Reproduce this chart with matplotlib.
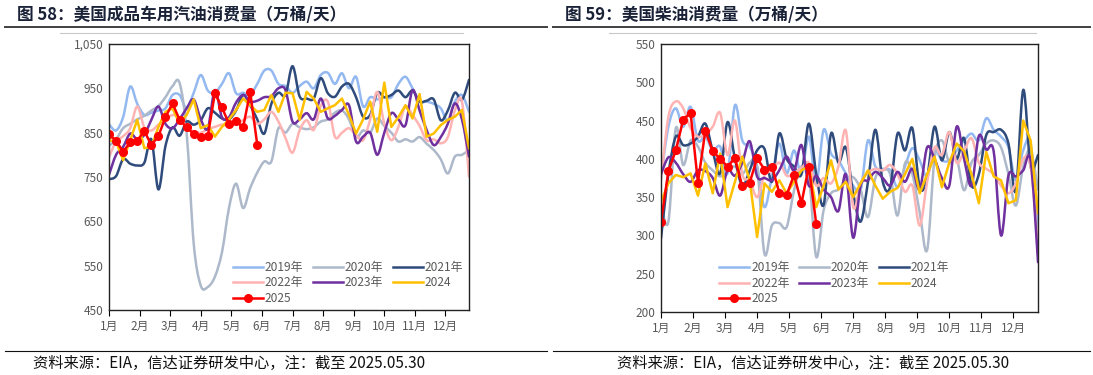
import numpy as np
import matplotlib
matplotlib.use("Agg")
import matplotlib.pyplot as plt
from matplotlib.lines import Line2D
from matplotlib.patches import PathPatch
from matplotlib.path import Path
from matplotlib.ticker import FuncFormatter

plt.rcParams["font.family"] = ["Noto Sans CJK SC", "DejaVu Sans"]

# ---- data (weekly, 52 weeks per year; 2025 through 2025-05-30) ----
years = ["2019年", "2020年", "2021年", "2022年", "2023年", "2024", "2025"]
months = ["1月", "2月", "3月", "4月", "5月", "6月", "7月", "8月", "9月", "10月", "11月", "12月"]

gas_2019 = [869, 855, 885, 954, 915, 890, 895, 900, 905, 935, 935, 905, 940, 980, 945, 940, 960, 984, 939, 940,
            935, 960, 990, 990, 960, 955, 940, 955, 965, 950, 980, 985, 960, 984, 950, 976, 909, 930, 925, 930,
            930, 960, 976, 950, 920, 920, 915, 905, 878, 920, 935, 897]
gas_2020 = [820, 835, 860, 870, 880, 888, 900, 910, 930, 955, 962, 850, 600, 505, 502, 525, 580, 680, 735, 680,
            725, 760, 785, 785, 860, 850, 870, 862, 858, 862, 875, 880, 895, 900, 880, 840, 855, 850, 882, 865,
            850, 830, 835, 830, 840, 825, 811, 790, 758, 796, 800, 811]
gas_2021 = [745, 752, 790, 780, 776, 782, 835, 722, 820, 862, 843, 875, 868, 878, 905, 895, 882, 880, 900, 935,
            912, 880, 848, 915, 940, 935, 1000, 932, 927, 927, 973, 939, 931, 954, 960, 930, 886, 890, 940, 930,
            935, 945, 930, 945, 920, 922, 925, 878, 900, 940, 924, 969]
gas_2022 = [795, 830, 842, 860, 909, 862, 855, 868, 878, 890, 882, 866, 852, 850, 858, 863, 868, 865, 870, 878,
            886, 870, 880, 897, 875, 838, 805, 855, 878, 856, 910, 920, 841, 850, 860, 845, 833, 880, 942, 870,
            833, 863, 909, 890, 865, 833, 835, 826, 840, 900, 920, 751]
gas_2023 = [755, 800, 818, 848, 835, 845, 879, 909, 870, 860, 880, 905, 925, 880, 860, 946, 885, 885, 918, 935,
            920, 922, 930, 932, 950, 946, 875, 880, 894, 880, 927, 882, 888, 901, 912, 830, 841, 850, 800, 850,
            894, 880, 867, 946, 900, 856, 822, 840, 870, 916, 880, 796]
gas_2024 = [833, 830, 788, 833, 879, 815, 818, 863, 897, 905, 871, 890, 925, 860, 867, 841, 863, 880, 901, 927,
            912, 897, 901, 935, 897, 940, 939, 879, 942, 927, 897, 905, 912, 927, 890, 848, 880, 920, 852, 963,
            863, 885, 912, 882, 937, 841, 848, 867, 879, 886, 901, 815]
gas_2025 = [846, 832, 807, 828, 832, 854, 822, 842, 885, 916, 879, 862, 847, 840, 843, 939, 907, 870, 876, 862,
            942, 823]

dsl_2019 = [376, 442, 466, 442, 468, 424, 429, 411, 416, 381, 470, 424, 416, 390, 337, 377, 420, 381, 411, 381,
            429, 368, 438, 407, 398, 381, 365, 359, 424, 390, 387, 385, 363, 390, 414, 398, 377, 411, 398, 398,
            411, 424, 433, 424, 453, 438, 429, 415, 372, 411, 420, 311]
dsl_2020 = [340, 318, 440, 392, 424, 416, 395, 385, 377, 385, 390, 380, 395, 390, 276, 313, 316, 311, 359, 390,
            380, 272, 333, 355, 360, 372, 376, 360, 324, 375, 385, 380, 326, 394, 380, 330, 281, 400, 424, 395,
            400, 359, 395, 405, 420, 424, 415, 380, 339, 390, 411, 360]
dsl_2021 = [296, 380, 429, 418, 420, 429, 446, 410, 381, 448, 400, 365, 385, 411, 413, 370, 433, 400, 390, 380,
            446, 380, 340, 433, 395, 415, 355, 318, 370, 438, 370, 363, 433, 411, 440, 363, 375, 442, 398, 435,
            400, 427, 365, 380, 431, 435, 438, 420, 358, 490, 390, 405]
dsl_2022 = [372, 455, 475, 466, 440, 429, 432, 442, 460, 405, 450, 380, 372, 350, 378, 385, 395, 378, 382, 388,
            395, 365, 375, 368, 390, 437, 337, 368, 382, 387, 385, 392, 380, 357, 365, 313, 370, 415, 405, 435,
            395, 410, 427, 395, 387, 380, 365, 355, 368, 400, 390, 285]
dsl_2023 = [380, 402, 395, 380, 370, 385, 384, 375, 352, 385, 378, 395, 423, 377, 375, 372, 385, 403, 385, 418,
            365, 378, 360, 350, 332, 380, 297, 365, 372, 383, 375, 365, 383, 370, 387, 360, 415, 400, 375, 365,
            442, 400, 365, 430, 412, 410, 300, 378, 377, 385, 398, 265]
dsl_2024 = [344, 368, 379, 376, 381, 352, 394, 355, 407, 337, 370, 403, 372, 298, 368, 357, 372, 355, 370, 385,
            390, 337, 365, 398, 360, 370, 350, 368, 385, 365, 348, 357, 362, 380, 400, 355, 380, 403, 363, 395,
            420, 410, 380, 342, 409, 377, 372, 342, 346, 450, 424, 329]
dsl_2025 = [318, 384, 411, 451, 460, 369, 437, 410, 400, 390, 401, 364, 369, 401, 386, 390, 356, 353, 379, 342,
            390, 315]

# ---- style ----
COLORS = ["#93B9F0", "#ADB9CA", "#2F4B7C", "#FFB3B3", "#7030A0", "#FFC000", "#FF0000"]
SMOOTH = [True, True, True, True, True, False, False]
TEXT_GREY = "#595959"
TITLE_COLOR = "#1A2238"
W, H = 1093, 375


def _px(x0, y0, x1, y1):
    """pixel box (top-left origin) -> figure rect"""
    return [x0 / W, 1 - y1 / H, (x1 - x0) / W, (y1 - y0) / H]


def _smooth_path(x, y):
    pts = np.column_stack([x, y]).astype(float)
    n = len(pts)
    verts = [pts[0]]
    codes = [Path.MOVETO]
    for i in range(n - 1):
        p0 = pts[i - 1] if i > 0 else pts[i]
        p1, p2 = pts[i], pts[i + 1]
        p3 = pts[i + 2] if i + 2 < n else pts[i + 1]
        verts += [p1 + (p2 - p0) / 6, p2 - (p3 - p1) / 6, p2]
        codes += [Path.CURVE4] * 3
    return Path(verts, codes)


def draw_panel(fig, rect, series, ylim, yticks, legend_anchor):
    ax = fig.add_axes(rect)
    for vals, color, smooth in zip(series, COLORS, SMOOTH):
        x = np.arange(len(vals))
        if smooth:
            ax.add_patch(PathPatch(_smooth_path(x, vals), fill=False, edgecolor=color,
                                   lw=1.8, joinstyle="round", capstyle="round"))
        elif color == COLORS[-1]:
            ax.plot(x, vals, color=color, lw=1.8, marker="o", ms=5.5)
        else:
            ax.plot(x, vals, color=color, lw=1.8)
    ax.set_xlim(0, 51)
    ax.set_ylim(*ylim)
    ax.set_yticks(yticks)
    ax.yaxis.set_major_formatter(FuncFormatter(lambda v, _: f"{v:,.0f}"))
    ax.set_xticks([i * 52 / 12 for i in range(12)])
    ax.set_xticklabels(months)
    ax.tick_params(axis="y", length=0, pad=4, labelsize=8.5, labelcolor=TEXT_GREY)
    ax.tick_params(axis="x", length=4, width=0.8, pad=3, labelsize=8.5, labelcolor=TEXT_GREY)
    for sp in ax.spines.values():
        sp.set_color("#222222")
        sp.set_linewidth(1.0)

    handles = []
    for label, color in zip(years, COLORS):
        if color == COLORS[-1]:
            handles.append(Line2D([], [], color=color, lw=1.8, marker="o", ms=5.5, label=label))
        else:
            handles.append(Line2D([], [], color=color, lw=1.8, label=label))
    order = [0, 3, 6, 1, 4, 2, 5]
    leg = ax.legend([handles[i] for i in order], [years[i] for i in order], ncol=3,
                    loc="upper left", bbox_to_anchor=legend_anchor, frameon=False,
                    fontsize=8.6, handlelength=2.5, handletextpad=0.15, columnspacing=0.8,
                    labelspacing=0.22, borderpad=0, borderaxespad=0)
    for t in leg.get_texts():
        t.set_color(TEXT_GREY)
    return ax


fig = plt.figure(figsize=(W / 100, H / 100), dpi=100, facecolor="white")

draw_panel(fig, _px(109, 44, 469, 310),
           [gas_2019, gas_2020, gas_2021, gas_2022, gas_2023, gas_2024, gas_2025],
           (450, 1050), range(450, 1051, 100), (0.345, 0.185))
draw_panel(fig, _px(661, 44, 1038, 312),
           [dsl_2019, dsl_2020, dsl_2021, dsl_2022, dsl_2023, dsl_2024, dsl_2025],
           (200, 550), range(200, 551, 50), (0.155, 0.19))

# titles, rules and footnotes
for x0, x1, title in [(5, 547, "图 58：美国成品车用汽油消费量（万桶/天）"),
                      (553, 1090, "图 59：美国柴油消费量（万桶/天）")]:
    fig.text((x0 + 12) / W, 1 - 15 / H, title, ha="left", va="center",
             fontsize=12, fontweight="bold", color=TITLE_COLOR)
    fig.add_artist(Line2D([x0 / W, x1 / W], [1 - 26.5 / H] * 2, color="#404040", lw=1.4))
    fig.add_artist(Line2D([x0 / W, x1 / W], [1 - 351 / H] * 2, color="#111111", lw=0.8))

for x0, x1 in [(60, 463), (609, 1036)]:
    fig.add_artist(Line2D([x0 / W, x1 / W], [1 - 33 / H] * 2, color="#C8C8C8", lw=0.8))

for x in (33, 617):
    fig.text(x / W, 1 - 363 / H, "资料来源：EIA，信达证券研发中心，注：截至 2025.05.30",
             ha="left", va="center", fontsize=11, style="italic", color="#111111")

fig.savefig("out.png", dpi=100, facecolor="white")
